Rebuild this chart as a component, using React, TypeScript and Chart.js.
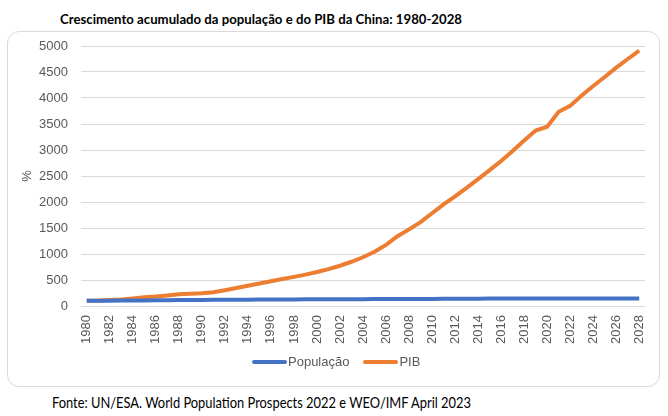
import React, { useEffect, useLayoutEffect, useRef } from "react";
import { Chart, registerables } from "chart.js";

Chart.register(...registerables);

const years: string[] = [];
for (let y = 1980; y <= 2028; y++) years.push(String(y));

const populacao = [
  100, 101, 103, 104, 106, 107, 109, 111, 113, 115,
  117, 118, 120, 121, 122, 124, 125, 126, 127, 128,
  129, 130, 131, 132, 132, 133, 134, 134, 135, 136,
  137, 138, 139, 140, 141, 142, 143, 144, 144, 145,
  145, 145, 145, 145, 145, 145, 145, 144, 144,
];

const pib = [
  100, 105, 115, 127, 146, 166, 181, 202, 224, 234,
  243, 266, 303, 345, 390, 433, 476, 520, 560, 603,
  655, 709, 774, 851, 937, 1044, 1176, 1343, 1473, 1612,
  1783, 1954, 2108, 2273, 2441, 2612, 2789, 2982, 3182, 3373,
  3447, 3736, 3848, 4048, 4231, 4404, 4585, 4750, 4911,
];

const seriesNames = ["População", "PIB"];
const seriesColors = ["#4472C4", "#ED7D31"];

const titleText = "Crescimento acumulado da população e do PIB da China: 1980-2028";
const sourceText = "Fonte: UN/ESA. World Population Prospects 2022 e WEO/IMF April 2023";

const textFont = "Lato, 'Open Sans', sans-serif";
const sans = "'Liberation Sans', Arial, sans-serif";

function FitText(props: { text: string; left: number; top: number; width: number; size: number; bold?: boolean }) {
  const ref = useRef<HTMLSpanElement | null>(null);
  useLayoutEffect(() => {
    const el = ref.current;
    if (!el) return;
    el.style.transform = "none";
    const w = el.getBoundingClientRect().width;
    if (w > 0) el.style.transform = `scaleX(${props.width / w})`;
  }, [props.text, props.width]);
  return (
    <div
      style={{
        position: "absolute",
        left: props.left,
        top: props.top,
        width: props.width,
        height: props.size * 1.2,
      }}
    >
      <span
        ref={ref}
        style={{
          display: "inline-block",
          whiteSpace: "nowrap",
          fontFamily: textFont,
          fontSize: props.size,
          fontWeight: props.bold ? "bold" : "normal",
          lineHeight: 1.2,
          color: "#000",
          transformOrigin: "0 0",
        }}
      >
        {props.text}
      </span>
    </div>
  );
}

export default function App() {
  const ref = useRef<HTMLCanvasElement | null>(null);

  useEffect(() => {
    if (!ref.current) return;
    const chart = new Chart(ref.current, {
      type: "line",
      data: {
        labels: years,
        datasets: [
          {
            label: seriesNames[0],
            data: populacao,
            borderColor: seriesColors[0],
            backgroundColor: seriesColors[0],
            borderWidth: 4,
            pointRadius: 0,
            tension: 0,
          },
          {
            label: seriesNames[1],
            data: pib,
            borderColor: seriesColors[1],
            backgroundColor: seriesColors[1],
            borderWidth: 4,
            pointRadius: 0,
            tension: 0,
          },
        ],
      },
      options: {
        responsive: false,
        animation: false,
        layout: { padding: { top: 14, right: 14, left: 0, bottom: 41 } },
        plugins: {
          legend: { display: false },
          tooltip: { enabled: false },
        },
        scales: {
          x: {
            type: "category",
            offset: true,
            grid: { display: false, drawTicks: false },
            border: { display: false },
            ticks: {
              autoSkip: false,
              maxRotation: 90,
              minRotation: 90,
              padding: 9,
              color: "#595959",
              font: { family: sans, size: 13 },
              callback: (_v: any, i: number) => (i % 2 === 0 ? years[i] : ""),
            },
            afterFit: (s: any) => {
              s.height = 39;
              s.paddingLeft = 0;
              s.paddingRight = 0;
            },
          },
          y: {
            min: 0,
            max: 5000,
            grid: { color: "#d9d9d9", drawTicks: false },
            border: { display: false },
            ticks: {
              stepSize: 500,
              padding: 13,
              color: "#595959",
              font: { family: sans, size: 13 },
              callback: (v: any) => String(v),
            },
            title: {
              display: true,
              text: "%",
              color: "#595959",
              font: { family: sans, size: 13 },
              padding: { top: 12, bottom: 0 },
            },
            afterFit: (s: any) => {
              s.width = 73;
              s.paddingTop = 0;
              s.paddingBottom = 0;
            },
          },
        },
      },
    });
    return () => chart.destroy();
  }, []);

  return (
    <div style={{ position: "absolute", left: 0, top: 0, width: 668, height: 416, background: "#fff" }}>
      <FitText text={titleText} left={60} top={9.5} width={402} size={14} bold />
      <div
        style={{
          position: "absolute",
          left: 7,
          top: 31,
          width: 653,
          height: 356,
          boxSizing: "border-box",
          border: "1px solid #d9d9d9",
          borderRadius: 12,
          overflow: "hidden",
        }}
      >
        <canvas ref={ref} width={651} height={354} style={{ display: "block", width: 651, height: 354 }} />
      </div>
      <div
        style={{
          position: "absolute",
          left: 252,
          top: 354,
          height: 16,
          display: "flex",
          alignItems: "center",
          fontFamily: sans,
          fontSize: 13,
          color: "#595959",
          whiteSpace: "nowrap",
        }}
      >
        {seriesNames.map((name, i) => (
          <div key={name} style={{ display: "flex", alignItems: "center", marginRight: i === 0 ? 14 : 0 }}>
            <span
              style={{
                display: "inline-block",
                width: 35,
                height: 4,
                borderRadius: 2,
                background: seriesColors[i],
                marginRight: 1,
              }}
            />
            <span style={{ lineHeight: "16px" }}>{name}</span>
          </div>
        ))}
      </div>
      <FitText text={sourceText} left={52} top={392} width={419} size={16} />
    </div>
  );
}
